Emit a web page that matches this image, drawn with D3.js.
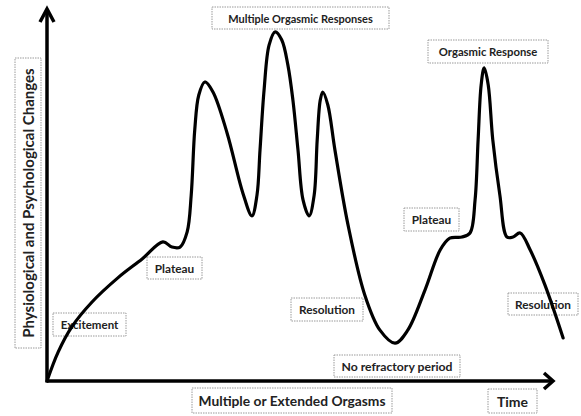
<!DOCTYPE html>
<html>
<head>
<meta charset="utf-8">
<script src="https://cdn.jsdelivr.net/npm/d3@7"></script>
<style>
  html, body { margin: 0; padding: 0; background: #fff; }
  svg { display: block; }
  text { font-family: Lato, "Open Sans", "DejaVu Sans", sans-serif; font-weight: bold; fill: #222; }
</style>
</head>
<body>
<script>
// ---- Data (time units 0..100, response level 0..100) ----
const timePoints = [0, 2.2, 4.9, 8.9, 14.0, 18.8, 22.9, 24.7, 26.3, 27.7, 28.5, 29.2, 30.0, 31.2, 32.8, 35.6, 38.7, 40.5,
  41.5, 42.1, 42.9, 43.9, 45.1, 46.4, 47.6, 48.6, 49.6, 50.6, 51.8, 52.8, 53.4, 54.0, 54.5, 55.5, 56.9, 59.5, 62.8, 65.8,
  68.8, 71.3, 74.7, 77.7, 79.6, 82.0, 83.6, 84.6, 85.2, 85.8, 86.4, 87.2, 88.1, 89.5, 90.9, 92.1, 93.5, 95.5, 98.4, 102.0];
const responseLevels = [0, 7.8, 14.6, 21.3, 27.8, 32.9, 37.5, 36.1, 36.1, 40.2, 50.1, 67.7, 77.1, 80.6, 77.9, 66.8, 50.7, 44.5,
  50.1, 62.3, 78.4, 90.6, 94.1, 91.9, 85.2, 75.7, 62.3, 48.8, 44.5, 50.1, 65.0, 75.7, 77.9, 74.4, 62.3, 42.0, 23.2, 13.7,
  10.2, 13.7, 24.5, 35.3, 38.5, 38.8, 39.9, 48.8, 65.0, 79.8, 84.4, 79.8, 65.0, 50.1, 38.8, 38.8, 39.9, 35.3, 25.9, 11.6];

const phaseLabels = ["Excitement", "Plateau", "Multiple Orgasmic Responses", "Resolution",
  "No refractory period", "Plateau", "Orgasmic Response", "Resolution"];
const xAxisTitle = "Multiple or Extended Orgasms";
const xAxisEnd = "Time";
const yAxisTitle = "Physiological and Psychological Changes";

// ---- Layout ----
const W = 581, H = 416;
const x = d3.scaleLinear().domain([0, 100]).range([47, 553]);
const y = d3.scaleLinear().domain([0, 100]).range([381, 10]);

// label boxes: [cx, cy, w, h, fontSize] in pixels
const phaseBoxes = [
  [89.5, 324.5, 73, 23, 11.5],
  [174.5, 268, 55, 22, 11.8],
  [300.5, 18, 177, 22, 11],
  [327, 309.5, 72, 23, 11.8],
  [397, 366, 126, 22, 12.2],
  [431.5, 219.5, 55, 23, 11.8],
  [488, 51.5, 120, 23, 11.3],
  [543, 304, 70, 22, 11.8]
];

const svg = d3.select("body").append("svg").attr("width", W).attr("height", H);

function box(cx, cy, w, h, label, fs, rotate) {
  const g = svg.append("g").attr("transform", `translate(${cx},${cy})` + (rotate ? " rotate(-90)" : ""));
  g.append("rect").attr("x", -w / 2).attr("y", -h / 2).attr("width", w).attr("height", h)
    .attr("fill", "none").attr("stroke", "#9a9a9a").attr("stroke-width", 1).attr("stroke-dasharray", "1.5,1");
  g.append("text").attr("text-anchor", "middle").attr("dominant-baseline", "central")
    .attr("font-size", fs).text(label);
}

phaseLabels.forEach((t, i) => {
  const b = phaseBoxes[i];
  box(b[0], b[1], b[2], b[3], t, b[4], false);
});
box(292, 400.5, 200, 25, xAxisTitle, 13.8, false);
box(512.5, 401, 49, 24, xAxisEnd, 14, false);
box(28, 203, 290, 26, yAxisTitle, 15, true);

// axes
const x0 = x(0), y0 = y(0);
const xEnd = x(100), yEnd = y(100);
svg.append("line").attr("x1", x0).attr("y1", y0).attr("x2", xEnd - 2).attr("y2", y0)
  .attr("stroke", "#000").attr("stroke-width", 3.5);
svg.append("line").attr("x1", x0).attr("y1", y0 + 1.5).attr("x2", x0).attr("y2", yEnd + 2)
  .attr("stroke", "#000").attr("stroke-width", 3.5);
// arrowheads
svg.append("path").attr("d", `M${xEnd - 9},${y0 - 8} L${xEnd},${y0} L${xEnd - 9},${y0 + 8}`)
  .attr("fill", "none").attr("stroke", "#000").attr("stroke-width", 3.5).attr("stroke-linejoin", "miter");
svg.append("path").attr("d", `M${x0 - 7},${yEnd + 12} L${x0},${yEnd - 1} L${x0 + 7},${yEnd + 12}`)
  .attr("fill", "none").attr("stroke", "#000").attr("stroke-width", 3.5).attr("stroke-linejoin", "miter");

// curve
const pts = timePoints.map((t, i) => [t, responseLevels[i]]);
const line = d3.line().x(d => x(d[0])).y(d => y(d[1])).curve(d3.curveCatmullRom.alpha(0.5));
svg.append("path").datum(pts).attr("d", line)
  .attr("fill", "none").attr("stroke", "#000").attr("stroke-width", 3.2)
  .attr("stroke-linecap", "round").attr("stroke-linejoin", "round");
</script>
</body>
</html>
